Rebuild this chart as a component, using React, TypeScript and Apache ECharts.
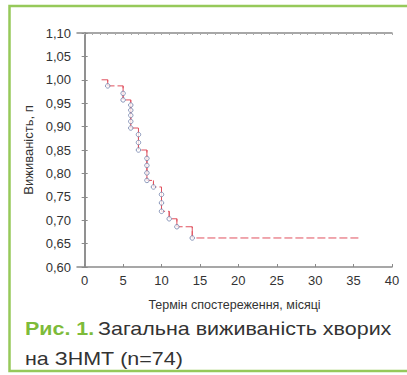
import React, { useEffect, useRef } from "react";
import * as echarts from "echarts";

// Kaplan–Meier step line (time in months, survival proportion after each step)
const stepTimes = [2.2, 3.0, 5.0, 6.0, 7.0, 8.1, 8.95, 10.0, 11.0, 12.0, 14.0, 36.0];
const stepSurvival = [1.0, 0.987, 0.957, 0.897, 0.85, 0.785, 0.771, 0.719, 0.703, 0.686, 0.662, 0.662];

// Complete observations (circles)
const eventTimes = [3, 5, 5, 6, 6, 6, 6, 6, 7, 7, 7, 8.1, 8.1, 8.1, 8.1, 8.95, 10, 10, 10, 11, 12, 14];
const eventSurvival = [0.987, 0.971, 0.957, 0.946, 0.935, 0.924, 0.911, 0.897, 0.883, 0.866, 0.85, 0.832, 0.817, 0.801, 0.785, 0.771, 0.755, 0.737, 0.719, 0.703, 0.686, 0.662];

const xTickValues = [0, 5, 10, 15, 20, 25, 30, 35, 40];
const xMinorValues = Array.from({ length: 41 }, (_, i) => i);

const yAxisTitle = "Виживаність, п";
const xAxisTitle = "Термін спостереження, місяці";
const captionBold = "Рис. 1.";
const captionLine1 = "Загальна виживаність хворих";
const captionLine2 = "на ЗНМТ (n=74)";

const FONT = "'Liberation Sans', Arial, sans-serif";
const AXIS_COLOR = "#8a8a8a";
const CURVE_COLOR = "#e0505e";

export default function App() {
  const ref = useRef<HTMLDivElement>(null);
  useEffect(() => {
    if (!ref.current) return;
    const chart = echarts.init(ref.current, undefined, { renderer: "svg" });
    const fmt = (v: number) => v.toFixed(2).replace(".", ",");
    // vertical drops of the step curve (drawn solid)
    const drops: any[] = [];
    for (let i = 1; i < stepTimes.length; i++) {
      if (stepSurvival[i] === stepSurvival[i - 1]) continue;
      drops.push([stepTimes[i], stepSurvival[i - 1]]);
      drops.push([stepTimes[i], stepSurvival[i]]);
      drops.push([stepTimes[i], "-"]);
    }
    chart.setOption({
      animation: false,
      backgroundColor: "#ffffff",
      graphic: [
        {
          type: "polyline",
          shape: { points: [[430, 6], [9.5, 6], [9.5, 371], [430, 371]] },
          style: { stroke: "#96c95a", lineWidth: 2.5, fill: "none" },
          silent: true,
        },
        {
          type: "text",
          x: 25,
          y: 313,
          scaleX: 1.13,
          silent: true,
          style: {
            text: `{b|${captionBold}} {n|${captionLine1}}\n{n|${captionLine2}}`,
            rich: {
              b: { fontFamily: FONT, fontSize: 19, fontWeight: "bold", fill: "#7dbb3a", lineHeight: 30 },
              n: { fontFamily: FONT, fontSize: 19, fontWeight: "normal", fill: "#333333", lineHeight: 30 },
            },
          },
        },
      ],
      grid: { left: 77, right: 15, top: 33, bottom: 108, show: false },
      xAxis: [
        {
          type: "value",
          min: -1,
          max: 40,
          position: "bottom",
          name: xAxisTitle,
          nameLocation: "middle",
          nameGap: 31,
          nameTextStyle: { fontFamily: FONT, fontSize: 12.5, color: "#333" },
          axisLine: { show: true, lineStyle: { color: AXIS_COLOR, width: 1.5 } },
          axisTick: { show: true, inside: true, length: 3, customValues: xTickValues, lineStyle: { color: AXIS_COLOR } },
          axisLabel: {
            customValues: xTickValues,
            fontFamily: FONT,
            fontSize: 13,
            color: "#333",
            margin: 7,
          },
          splitLine: { show: false },
        },
        {
          type: "value",
          min: -1,
          max: 40,
          position: "top",
          axisLine: { show: true, lineStyle: { color: AXIS_COLOR, width: 1.5 } },
          axisTick: { show: true, inside: true, length: 2, customValues: xMinorValues, lineStyle: { color: "#aaaaaa" } },
          axisLabel: { show: false },
          splitLine: { show: false },
        },
      ],
      yAxis: [
        {
          type: "value",
          min: 0.6,
          max: 1.1,
          interval: 0.05,
          position: "left",
          name: yAxisTitle,
          nameLocation: "middle",
          nameGap: 30,
          nameTextStyle: { fontFamily: FONT, fontSize: 13, color: "#333" },
          axisLine: { show: true, lineStyle: { color: AXIS_COLOR, width: 1.5 } },
          axisTick: { show: true, inside: true, length: 3, lineStyle: { color: AXIS_COLOR } },
          axisLabel: { formatter: fmt, fontFamily: FONT, fontSize: 13, color: "#333", margin: 6 },
          splitLine: { show: false },
        },
        {
          type: "value",
          min: 0.6,
          max: 1.1,
          interval: 0.05,
          position: "right",
          axisLine: { show: true, lineStyle: { color: AXIS_COLOR, width: 1.5 } },
          axisTick: { show: true, inside: true, length: 3, lineStyle: { color: AXIS_COLOR } },
          axisLabel: { show: false },
          splitLine: { show: false },
        },
      ],
      series: [
        {
          type: "line",
          step: "end",
          data: stepTimes.map((t, i) => [t, stepSurvival[i]]),
          showSymbol: false,
          symbol: "none",
          lineStyle: { color: CURVE_COLOR, width: 1, type: [8, 3] },
          silent: true,
        },
        {
          type: "line",
          data: drops,
          showSymbol: false,
          symbol: "none",
          connectNulls: false,
          lineStyle: { color: CURVE_COLOR, width: 1, type: "solid" },
          silent: true,
        },
        {
          type: "scatter",
          data: eventTimes.map((t, i) => [t, eventSurvival[i]]),
          symbol: "circle",
          symbolSize: 4.5,
          itemStyle: { color: "#ffffff", borderColor: "#6f80aa", borderWidth: 1 },
          silent: true,
          z: 3,
        },
      ],
    });
    return () => chart.dispose();
  }, []);
  return <div ref={ref} style={{ position: "fixed", left: 0, top: 0, width: 407, height: 375 }} />;
}
